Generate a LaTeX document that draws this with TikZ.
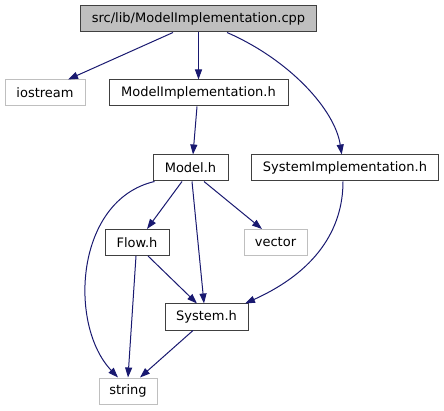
\documentclass[tikz,border=0pt]{standalone}
\usepackage{fontspec}
\setmainfont{DejaVu Sans}
\usetikzlibrary{arrows.meta}
\definecolor{edgec}{HTML}{191970}
\definecolor{grayb}{HTML}{BFBFBF}
\definecolor{darkb}{HTML}{404040}
\tikzset{
  box/.style={draw=darkb, line width=1pt, rectangle, inner sep=0pt,
    minimum height=26pt, font=\fontsize{13}{15}\selectfont, text=black},
  ext/.style={box, draw=grayb},
  dep/.style={draw=edgec, line width=1pt, -{Triangle[length=10pt,width=7pt]}}
}
\begin{document}
\begin{tikzpicture}[x=1pt,y=-1pt]
\useasboundingbox (0,0) rectangle (444,411);
\node[box, fill=grayb, minimum width=236pt] (cpp) at (198.5,19) {src/lib/ModelImplementation.cpp};
\node[ext, minimum width=80pt] (ios) at (45,93) {iostream};
\node[box, minimum width=179pt] (mih) at (198.5,93) {ModelImplementation.h};
\node[box, minimum width=75pt] (model) at (190.5,168) {Model.h};
\node[box, minimum width=187pt] (simpl) at (345,168) {SystemImplementation.h};
\node[box, minimum width=64pt] (flow) at (137,242.5) {Flow.h};
\node[ext, minimum width=63pt] (vec) at (275.5,242.5) {vector};
\node[box, minimum width=83pt] (sys) at (206.5,317) {System.h};
\node[ext, minimum width=58pt] (str) at (128,391) {string};

\draw[dep] ([xshift=-25.5pt]cpp.south) -- ([xshift=23pt]ios.north);
\draw[dep] (cpp.south) -- (mih.north);
\draw[dep] ([xshift=28.5pt]cpp.south) .. controls (290,60) and (335,110) .. ([xshift=-3.3pt]simpl.north);
\draw[dep] ([xshift=-1.5pt]mih.south) -- ([xshift=2.5pt]model.north);
\draw[dep] ([xshift=-8.5pt]model.south) -- ([xshift=10pt]flow.north);
\draw[dep] ([xshift=13.5pt]model.south) -- ([xshift=-13.5pt]vec.north);
\draw[dep] ([xshift=1.5pt]model.south) -- ([xshift=-2.5pt]sys.north);
\draw[dep] ([xshift=2pt]model.south west) .. controls (75,200) and (68,325) .. ([xshift=-10pt]str.north);
\draw[dep] ([xshift=-1pt]flow.south) -- (str.north);
\draw[dep] ([xshift=11pt]flow.south) -- ([xshift=-9.5pt]sys.north);
\draw[dep] ([xshift=-2pt]simpl.south) .. controls (343,230) and (315,272) .. ([xshift=38.5pt]sys.north);
\draw[dep] ([xshift=-13.5pt]sys.south) -- ([xshift=12pt]str.north);
\end{tikzpicture}
\end{document}
